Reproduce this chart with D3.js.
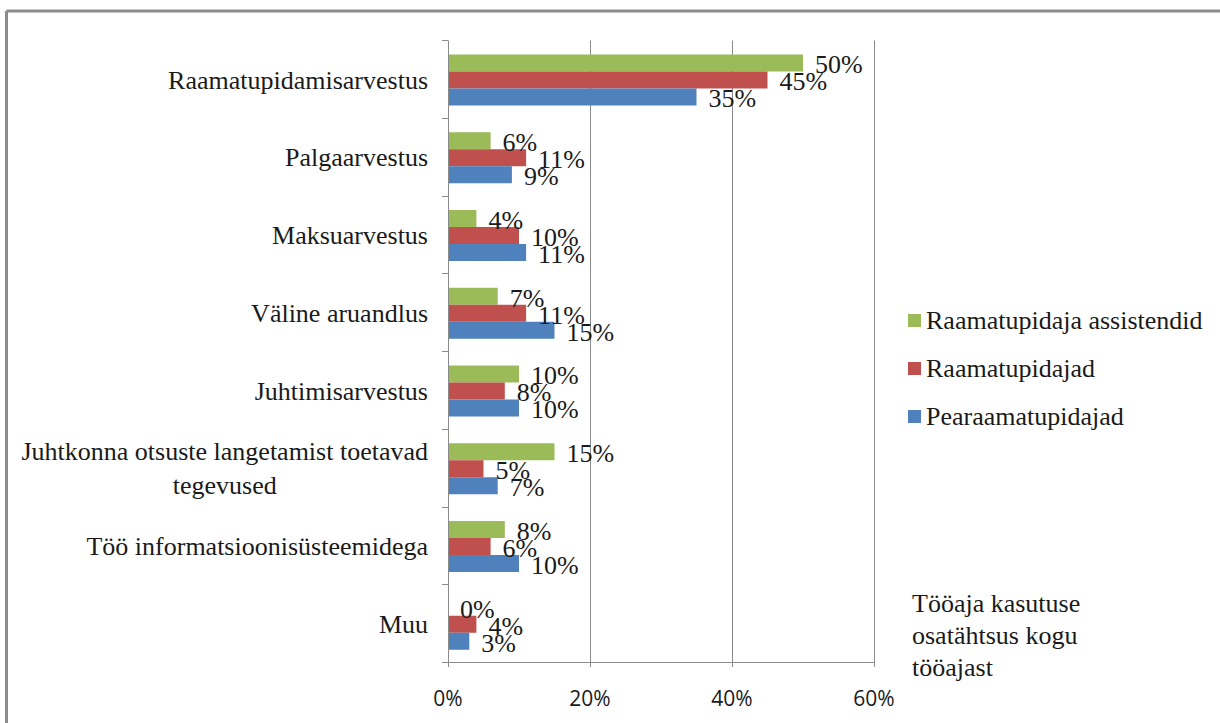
<!DOCTYPE html>
<html>
<head>
    <meta charset="utf-8">
    <title>Tööaja kasutus</title>
    <script src="https://cdn.jsdelivr.net/npm/d3@7"></script>
    <style>
        body { margin: 0; background: #fff; }
        svg text { fill: #1a1a1a; }
        .serif { font-family: "Liberation Serif", "Times New Roman", serif; }
        .sans { font-family: "Open Sans", "Liberation Sans", sans-serif; }
    </style>
</head>
<body>
<script>
    const categories = [
        "Raamatupidamisarvestus",
        "Palgaarvestus",
        "Maksuarvestus",
        "Väline aruandlus",
        "Juhtimisarvestus",
        "Juhtkonna otsuste langetamist toetavad tegevused",
        "Töö informatsioonisüsteemidega",
        "Muu"
    ];
    const seriesNames = ["Raamatupidaja assistendid", "Raamatupidajad", "Pearaamatupidajad"];
    const seriesColors = ["#9bbb59", "#c0504d", "#4f81bd"];
    // values in percent, same order as categories
    const assistendid = [50, 6, 4, 7, 10, 15, 8, 0];
    const raamatupidajad = [45, 11, 10, 11, 8, 5, 6, 4];
    const pearaamatupidajad = [35, 9, 11, 15, 10, 7, 10, 3];
    const xTicks = [0, 20, 40, 60];
    const noteLines = ["Tööaja kasutuse", "osatähtsus kogu", "tööajast"];

    const series = [assistendid, raamatupidajad, pearaamatupidajad];

    const width = 1220;
    const height = 723;

    const svg = d3.select('body')
        .append('svg')
        .attr('width', width)
        .attr('height', height);

    // frame of the original picture (top and left edges only)
    svg.append('line').attr('x1', 6.5).attr('x2', width).attr('y1', 11).attr('y2', 11)
        .attr('stroke', '#8c8c8c').attr('stroke-width', 3);
    svg.append('line').attr('x1', 6.5).attr('x2', 6.5).attr('y1', 11).attr('y2', height)
        .attr('stroke', '#8c8c8c').attr('stroke-width', 3);

    const x = d3.scaleLinear().domain([0, 60]).range([448, 874]);
    const y = d3.scaleBand().domain(categories).range([40.5, 662.5]);
    const ySub = d3.scaleBand().domain(d3.range(series.length)).range([14, 65]);

    // vertical gridlines
    svg.append('g')
        .selectAll('line')
        .data(xTicks.filter(d => d > 0))
        .join('line')
        .attr('x1', d => Math.round(x(d)) + 0.5)
        .attr('x2', d => Math.round(x(d)) + 0.5)
        .attr('y1', 40.5)
        .attr('y2', 667)
        .attr('stroke', '#8a8a8a');

    // bars
    const groups = svg.append('g')
        .selectAll('g')
        .data(categories)
        .join('g')
        .attr('transform', d => `translate(0,${y(d)})`);

    groups.selectAll('rect')
        .data((d, i) => series.map((s, k) => ({ k, v: s[i] })))
        .join('rect')
        .attr('x', x(0))
        .attr('y', d => ySub(d.k))
        .attr('width', d => x(d.v) - x(0))
        .attr('height', ySub.bandwidth())
        .attr('fill', d => seriesColors[d.k]);

    groups.selectAll('text')
        .data((d, i) => series.map((s, k) => ({ k, v: s[i] })))
        .join('text')
        .attr('class', 'serif')
        .attr('x', d => x(d.v) + 12)
        .attr('y', d => ySub(d.k) + ySub.bandwidth() / 2)
        .attr('dy', '0.4em')
        .style('font-size', '26px')
        .text(d => d.v + '%');

    // y axis line and ticks
    svg.append('line').attr('x1', x(0) + 0.5).attr('x2', x(0) + 0.5)
        .attr('y1', 40.5).attr('y2', 667).attr('stroke', '#8a8a8a');
    svg.append('g')
        .selectAll('line')
        .data(d3.range(categories.length + 1))
        .join('line')
        .attr('x1', x(0) - 6)
        .attr('x2', x(0))
        .attr('y1', i => Math.round(40 + i * y.step()) + 0.5)
        .attr('y2', i => Math.round(40 + i * y.step()) + 0.5)
        .attr('stroke', '#8a8a8a');

    // x axis line
    svg.append('line').attr('x1', x(0)).attr('x2', x(60) + 1)
        .attr('y1', 662.5).attr('y2', 662.5).attr('stroke', '#8a8a8a');

    svg.append('g')
        .selectAll('text')
        .data(xTicks)
        .join('text')
        .attr('class', 'sans')
        .attr('x', d => x(d))
        .attr('y', 706)
        .attr('text-anchor', 'middle')
        .style('font-size', '21px')
        .text(d => d + '%');

    // category labels, wrapped when too long
    const labelRight = 428;
    const maxLabel = 430;
    categories.forEach(cat => {
        const t = svg.append('text')
            .attr('class', 'serif')
            .style('font-size', '26px');
        const words = cat.split(' ');
        let lines = [];
        let line = [];
        words.forEach(w => {
            line.push(w);
            t.text(line.join(' '));
            if (t.node().getComputedTextLength() > maxLabel && line.length > 1) {
                line.pop();
                lines.push(line.join(' '));
                line = [w];
            }
        });
        lines.push(line.join(' '));
        t.text(null);
        const widths = lines.map(l => {
            t.text(l);
            return t.node().getComputedTextLength();
        });
        t.text(null);
        const blockW = d3.max(widths);
        const cy = y(cat) + y.bandwidth() / 2;
        const lh = 34;
        t.attr('text-anchor', lines.length > 1 ? 'middle' : 'end');
        lines.forEach((l, i) => {
            t.append('tspan')
                .attr('x', lines.length > 1 ? labelRight - blockW / 2 : labelRight)
                .attr('y', cy + (i - (lines.length - 1) / 2) * lh)
                .attr('dy', '0.36em')
                .text(l);
        });
    });

    // legend
    const legend = svg.append('g')
        .selectAll('g')
        .data(seriesNames)
        .join('g')
        .attr('transform', (d, i) => `translate(908,${314 + i * 48})`);
    legend.append('rect')
        .attr('width', 13)
        .attr('height', 13)
        .attr('fill', (d, i) => seriesColors[i]);
    legend.append('text')
        .attr('class', 'serif')
        .attr('x', 18)
        .attr('y', 15)
        .style('font-size', '26px')
        .text(d => d);

    // axis title at lower right
    svg.append('text')
        .attr('class', 'serif')
        .style('font-size', '26px')
        .selectAll('tspan')
        .data(noteLines)
        .join('tspan')
        .attr('x', 912)
        .attr('y', (d, i) => 612 + i * 32)
        .text(d => d);
</script>
</body>
</html>
